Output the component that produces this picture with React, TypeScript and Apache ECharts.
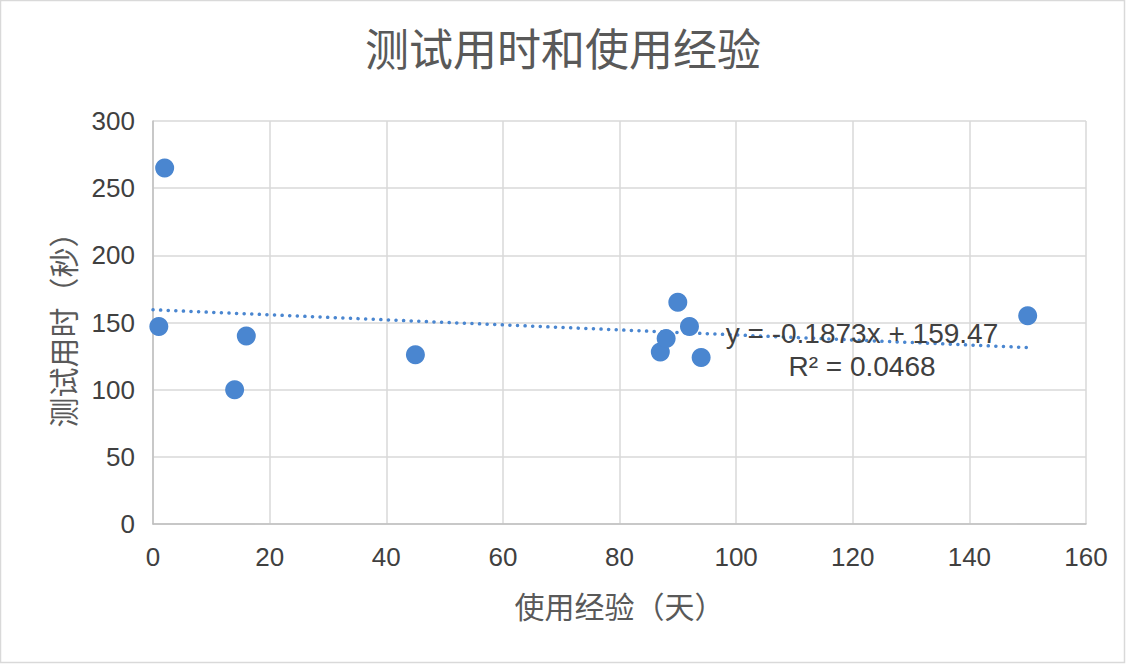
import React, { useEffect, useRef } from "react";
import * as echarts from "echarts";

const experienceDays = [1, 2, 14, 16, 45, 87, 88, 90, 92, 94, 150];
const testSeconds = [147, 265, 100, 140, 126, 128, 138, 165, 147, 124, 155];
const trendSlope = -0.1873;
const trendIntercept = 159.47;
const trendRange = [0, 150];
const trendEquation = "y = -0.1873x + 159.47";
const trendR2 = "R² = 0.0468";
const titleText = "测试用时和使用经验";
const xName = "使用经验（天）";
const yName = "测试用时（秒）";

export default function App() {
  const ref = useRef<HTMLDivElement>(null);
  useEffect(() => {
    if (!ref.current) return;
    const chart = echarts.init(ref.current, undefined, { renderer: "svg" });
    const points = experienceDays.map((x, i) => [x, testSeconds[i]]);
    const trend = trendRange.map((x) => [x, trendIntercept + trendSlope * x]);
    const font = "'Helvetica Neue', 'Liberation Sans', Arial, sans-serif";
    const cjk = "'Noto Sans CJK SC', sans-serif";
    chart.setOption({
      animation: false,
      backgroundColor: "#ffffff",
      title: {
        text: titleText,
        left: "center",
        top: 20,
        textStyle: { fontFamily: cjk, fontSize: 44, fontWeight: "normal", color: "#595959" },
      },
      grid: { left: 153, right: 40, top: 121, bottom: 141 },
      xAxis: {
        type: "value",
        min: 0,
        max: 160,
        interval: 20,
        name: xName,
        nameLocation: "middle",
        nameGap: 66,
        nameTextStyle: { fontFamily: cjk, fontSize: 30, color: "#595959" },
        axisLine: { show: true, lineStyle: { color: "#bfbfbf", width: 1.5 } },
        axisTick: { show: false },
        axisLabel: { margin: 20, fontFamily: font, fontSize: 26, color: "#404040" },
        splitLine: { show: true, lineStyle: { color: "#d9d9d9", width: 1.5 } },
      },
      yAxis: {
        type: "value",
        min: 0,
        max: 300,
        interval: 50,
        name: yName,
        nameLocation: "middle",
        nameGap: 76,
        nameTextStyle: { fontFamily: cjk, fontSize: 30, color: "#595959" },
        axisLine: { show: true, lineStyle: { color: "#bfbfbf", width: 1.5 } },
        axisTick: { show: false },
        axisLabel: { margin: 18, fontFamily: font, fontSize: 26, color: "#404040" },
        splitLine: { show: true, lineStyle: { color: "#d9d9d9", width: 1.5 } },
      },
      series: [
        {
          type: "line",
          data: trend,
          symbol: "none",
          z: 1,
          lineStyle: { color: "#4a86d0", width: 3.5, type: [0.1, 7.5], cap: "round" },
        },
        {
          type: "scatter",
          data: points,
          symbolSize: 19,
          z: 3,
          itemStyle: { color: "#4a86d0", opacity: 1 },
        },
      ],
      graphic: [
        {
          type: "rect",
          shape: { x: 0.5, y: 0.5, width: 1124, height: 662 },
          style: { fill: "none", stroke: "#d9d9d9", lineWidth: 1.5 },
          silent: true,
        },
        {
          type: "text",
          x: 862,
          y: 333,
          z: 10,
          style: {
            text: trendEquation,
            textAlign: "center",
            textVerticalAlign: "middle",
            fontFamily: font,
            fontSize: 28,
            fill: "#404040",
          },
        },
        {
          type: "text",
          x: 862,
          y: 366,
          z: 10,
          style: {
            text: trendR2,
            textAlign: "center",
            textVerticalAlign: "middle",
            fontFamily: font,
            fontSize: 28,
            fill: "#404040",
          },
        },
      ],
    });
    return () => chart.dispose();
  }, []);
  return (
    <div
      ref={ref}
      style={{ position: "fixed", left: 0, top: 0, width: 1126, height: 665 }}
    />
  );
}
